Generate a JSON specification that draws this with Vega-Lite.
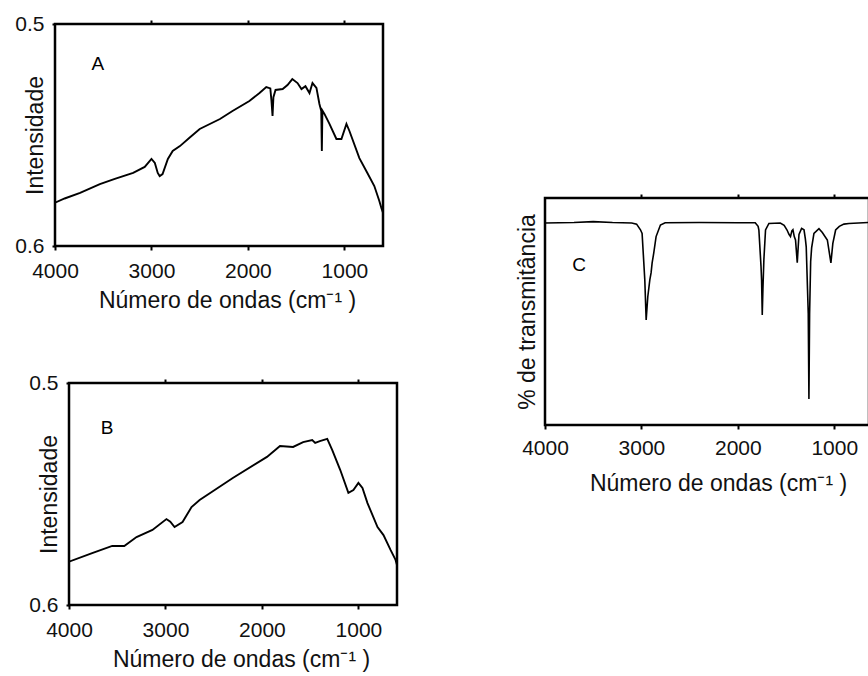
{
  "$schema": "https://vega.github.io/schema/vega-lite/v6.json",
  "padding": {"left": 6, "top": 11, "right": 0, "bottom": 0},
  "background": "white",
  "config": {
    "font": "Liberation Sans",
    "view": {"stroke": "black", "strokeWidth": 2.5},
    "axis": {
      "labelFont": "Liberation Sans",
      "titleFont": "Liberation Sans",
      "labelFontSize": 21,
      "titleFontSize": 23,
      "titleFontWeight": "normal",
      "labelColor": "#111111",
      "titleColor": "#111111",
      "tickColor": "black",
      "tickWidth": 2,
      "grid": false,
      "domain": false,
      "labelFlush": false
    }
  },
  "spacing": 115,
  "hconcat": [
    {
      "columns": 1,
      "align": "none",
      "spacing": 56,
      "concat": [
        {
          "spacing": 0,
          "hconcat": [
            {
              "width": 1, "height": 1,
              "view": {"stroke": null},
              "data": {"values": [{"s": 1}]},
              "mark": {"type": "point", "opacity": 0},
              "encoding": {}
            },
            {
              "width": 328,
              "height": 222,
              "resolve": {"axis": {"x": "independent"}},
              "layer": [
                {
                  "data": {"values": [
                    {"wn": 4000, "v": 0.5805}, {"wn": 3900, "v": 0.5786}, {"wn": 3740, "v": 0.5761}, {"wn": 3535, "v": 0.5721},
                    {"wn": 3380, "v": 0.5698}, {"wn": 3190, "v": 0.5671}, {"wn": 3070, "v": 0.5644}, {"wn": 3000, "v": 0.5608},
                    {"wn": 2965, "v": 0.5626}, {"wn": 2935, "v": 0.5671}, {"wn": 2915, "v": 0.5685}, {"wn": 2885, "v": 0.5676},
                    {"wn": 2830, "v": 0.5608}, {"wn": 2780, "v": 0.5572}, {"wn": 2705, "v": 0.555}, {"wn": 2600, "v": 0.551},
                    {"wn": 2500, "v": 0.5473}, {"wn": 2290, "v": 0.5428}, {"wn": 2160, "v": 0.5392}, {"wn": 1985, "v": 0.5347},
                    {"wn": 1880, "v": 0.5311}, {"wn": 1810, "v": 0.5284}, {"wn": 1768, "v": 0.529}, {"wn": 1756, "v": 0.5347},
                    {"wn": 1745, "v": 0.5414}, {"wn": 1736, "v": 0.533}, {"wn": 1714, "v": 0.5297}, {"wn": 1640, "v": 0.5293},
                    {"wn": 1590, "v": 0.5275}, {"wn": 1540, "v": 0.5248}, {"wn": 1486, "v": 0.5266}, {"wn": 1445, "v": 0.5293},
                    {"wn": 1404, "v": 0.528}, {"wn": 1362, "v": 0.5311}, {"wn": 1331, "v": 0.5266}, {"wn": 1290, "v": 0.5288},
                    {"wn": 1259, "v": 0.536}, {"wn": 1240, "v": 0.5392}, {"wn": 1234, "v": 0.5572}, {"wn": 1228, "v": 0.539},
                    {"wn": 1207, "v": 0.5405}, {"wn": 1155, "v": 0.545}, {"wn": 1083, "v": 0.5518}, {"wn": 1031, "v": 0.5518},
                    {"wn": 979, "v": 0.545}, {"wn": 948, "v": 0.5482}, {"wn": 845, "v": 0.5604}, {"wn": 762, "v": 0.5671},
                    {"wn": 690, "v": 0.573}, {"wn": 638, "v": 0.5797}, {"wn": 617, "v": 0.5829}, {"wn": 600, "v": 0.585}
                  ]},
                  "mark": {"type": "line", "color": "black", "strokeWidth": 1.9, "clip": true},
                  "encoding": {
                    "x": {"field": "wn", "type": "quantitative",
                      "scale": {"domain": [4000, 600], "nice": false, "zero": false},
                      "axis": {"values": [4000, 3000, 2000, 1000], "format": "d", "title": "Número de ondas (cm⁻¹ )", "tickSize": 4, "labelPadding": 10, "titlePadding": 8, "titleX": 172}},
                    "y": {"field": "v", "type": "quantitative",
                      "scale": {"domain": [0.5, 0.6], "reverse": true, "nice": false, "zero": false},
                      "axis": {"values": [0.5, 0.6], "format": ".1f", "title": "Intensidade", "tickSize": 3, "labelPadding": 8, "titleX": -13, "titleBaseline": "alphabetic"}}
                  }
                },
                {
                  "data": {"values": [{"label": "A", "wn": 3555, "v": 0.518}]},
                  "mark": {"type": "text", "fontSize": 19, "color": "black", "font": "Liberation Sans"},
                  "encoding": {
                    "x": {"field": "wn", "type": "quantitative",
                      "axis": {"orient": "top", "values": [3000, 2000, 1000], "labels": false, "title": null, "tickSize": 4}},
                    "y": {"field": "v", "type": "quantitative"},
                    "text": {"field": "label"}
                  }
                }
              ]
            }
          ]
        },
        {
          "spacing": 0,
          "hconcat": [
            {
              "width": 18, "height": 1,
              "view": {"stroke": null},
              "data": {"values": [{"s": 1}]},
              "mark": {"type": "point", "opacity": 0},
              "encoding": {}
            },
            {
              "width": 328,
              "height": 222,
              "resolve": {"axis": {"x": "independent"}},
              "layer": [
                {
                  "data": {"values": [
                    {"wn": 4000, "v": 0.5805}, {"wn": 3760, "v": 0.5766}, {"wn": 3552, "v": 0.5734}, {"wn": 3427, "v": 0.5734},
                    {"wn": 3300, "v": 0.5694}, {"wn": 3135, "v": 0.5662}, {"wn": 2990, "v": 0.5613}, {"wn": 2950, "v": 0.5625},
                    {"wn": 2906, "v": 0.5649}, {"wn": 2823, "v": 0.5626}, {"wn": 2730, "v": 0.5559}, {"wn": 2646, "v": 0.5527},
                    {"wn": 2302, "v": 0.5428}, {"wn": 1948, "v": 0.5333}, {"wn": 1813, "v": 0.5284}, {"wn": 1677, "v": 0.5288},
                    {"wn": 1573, "v": 0.5266}, {"wn": 1479, "v": 0.5257}, {"wn": 1448, "v": 0.527}, {"wn": 1400, "v": 0.5262},
                    {"wn": 1323, "v": 0.5252}, {"wn": 1271, "v": 0.5302}, {"wn": 1188, "v": 0.5392}, {"wn": 1104, "v": 0.5495},
                    {"wn": 1052, "v": 0.5482}, {"wn": 1000, "v": 0.545}, {"wn": 958, "v": 0.5473}, {"wn": 906, "v": 0.5541},
                    {"wn": 802, "v": 0.5649}, {"wn": 740, "v": 0.5685}, {"wn": 667, "v": 0.5752}, {"wn": 615, "v": 0.5797},
                    {"wn": 594, "v": 0.5829}, {"wn": 583, "v": 0.586}
                  ]},
                  "mark": {"type": "line", "color": "black", "strokeWidth": 1.9, "clip": true},
                  "encoding": {
                    "x": {"field": "wn", "type": "quantitative",
                      "scale": {"domain": [4000, 600], "nice": false, "zero": false},
                      "axis": {"values": [4000, 3000, 2000, 1000], "format": "d", "title": "Número de ondas (cm⁻¹ )", "tickSize": 4, "labelPadding": 10, "titlePadding": 8, "titleX": 172}},
                    "y": {"field": "v", "type": "quantitative",
                      "scale": {"domain": [0.5, 0.6], "reverse": true, "nice": false, "zero": false},
                      "axis": {"values": [0.5, 0.6], "format": ".1f", "title": "Intensidade", "tickSize": 3, "labelPadding": 8, "titleX": -13, "titleBaseline": "alphabetic"}}
                  }
                },
                {
                  "data": {"values": [{"label": "B", "wn": 3604, "v": 0.5203}]},
                  "mark": {"type": "text", "fontSize": 19, "color": "black", "font": "Liberation Sans"},
                  "encoding": {
                    "x": {"field": "wn", "type": "quantitative",
                      "axis": {"orient": "top", "values": [3000, 2000, 1000], "labels": false, "title": null, "tickSize": 4}},
                    "y": {"field": "v", "type": "quantitative"},
                    "text": {"field": "label"}
                  }
                }
              ]
            }
          ]
        }
      ]
    },
    {
      "columns": 1,
      "align": "none",
      "spacing": 0,
      "concat": [
        {
          "width": 10, "height": 167,
          "view": {"stroke": null},
          "data": {"values": [{"s": 1}]},
          "mark": {"type": "point", "opacity": 0},
          "encoding": {}
        },
        {
          "width": 324,
          "height": 227,
          "resolve": {"axis": {"x": "independent"}},
          "layer": [
            {
              "data": {"values": [
                {"wn": 4000, "v": 89}, {"wn": 3700, "v": 89.2}, {"wn": 3500, "v": 89.6}, {"wn": 3300, "v": 89.2},
                {"wn": 3100, "v": 89}, {"wn": 3050, "v": 88.5}, {"wn": 3010, "v": 86}, {"wn": 2993, "v": 84.4},
                {"wn": 2965, "v": 63.9}, {"wn": 2951, "v": 46.3}, {"wn": 2934, "v": 56.5}, {"wn": 2913, "v": 63.9},
                {"wn": 2900, "v": 67}, {"wn": 2889, "v": 71.4}, {"wn": 2872, "v": 75.8}, {"wn": 2848, "v": 83},
                {"wn": 2803, "v": 88.1}, {"wn": 2754, "v": 89.1}, {"wn": 2400, "v": 89.2}, {"wn": 2000, "v": 89.1},
                {"wn": 1820, "v": 89.1}, {"wn": 1790, "v": 87.5}, {"wn": 1782, "v": 85.9}, {"wn": 1760, "v": 70},
                {"wn": 1754, "v": 63.9}, {"wn": 1747, "v": 48.5}, {"wn": 1740, "v": 60}, {"wn": 1730, "v": 73},
                {"wn": 1713, "v": 85.9}, {"wn": 1678, "v": 88.8}, {"wn": 1560, "v": 89}, {"wn": 1520, "v": 88},
                {"wn": 1490, "v": 85.9}, {"wn": 1470, "v": 84}, {"wn": 1454, "v": 83}, {"wn": 1440, "v": 85.5},
                {"wn": 1429, "v": 86}, {"wn": 1415, "v": 83}, {"wn": 1402, "v": 81.5}, {"wn": 1384, "v": 71.5},
                {"wn": 1372, "v": 80}, {"wn": 1366, "v": 84}, {"wn": 1339, "v": 86.6}, {"wn": 1314, "v": 86},
                {"wn": 1300, "v": 82}, {"wn": 1291, "v": 78.5}, {"wn": 1270, "v": 49.2}, {"wn": 1263, "v": 11.5},
                {"wn": 1256, "v": 49}, {"wn": 1245, "v": 72}, {"wn": 1235, "v": 78}, {"wn": 1211, "v": 84.4},
                {"wn": 1159, "v": 86.5}, {"wn": 1124, "v": 84.8}, {"wn": 1072, "v": 81.5}, {"wn": 1035, "v": 71.4},
                {"wn": 1015, "v": 80}, {"wn": 986, "v": 85.9}, {"wn": 948, "v": 87.5}, {"wn": 900, "v": 88.5},
                {"wn": 848, "v": 88.8}, {"wn": 640, "v": 89.2}
              ]},
              "mark": {"type": "line", "color": "black", "strokeWidth": 1.6, "clip": true},
              "encoding": {
                "x": {"field": "wn", "type": "quantitative",
                  "scale": {"domain": [4000, 640], "nice": false, "zero": false},
                  "axis": {"values": [4000, 3000, 2000, 1000], "format": "d", "title": "Número de ondas (cm⁻¹ )", "tickSize": 4, "labelPadding": 8, "titlePadding": 14, "titleX": 173}},
                "y": {"field": "v", "type": "quantitative",
                  "scale": {"domain": [0, 100], "nice": false, "zero": false},
                  "axis": {"labels": false, "ticks": false, "title": "% de transmitância", "titleX": -11, "titleBaseline": "alphabetic"}}
              }
            },
            {
              "data": {"values": [{"label": "C", "wn": 3647, "v": 70.5}]},
              "mark": {"type": "text", "fontSize": 19, "color": "black", "font": "Liberation Sans"},
              "encoding": {
                "x": {"field": "wn", "type": "quantitative",
                  "axis": {"orient": "top", "values": [3000, 2000, 1000], "labels": false, "title": null, "tickSize": 4}},
                "y": {"field": "v", "type": "quantitative"},
                "text": {"field": "label"}
              }
            }
          ]
        }
      ]
    }
  ]
}
